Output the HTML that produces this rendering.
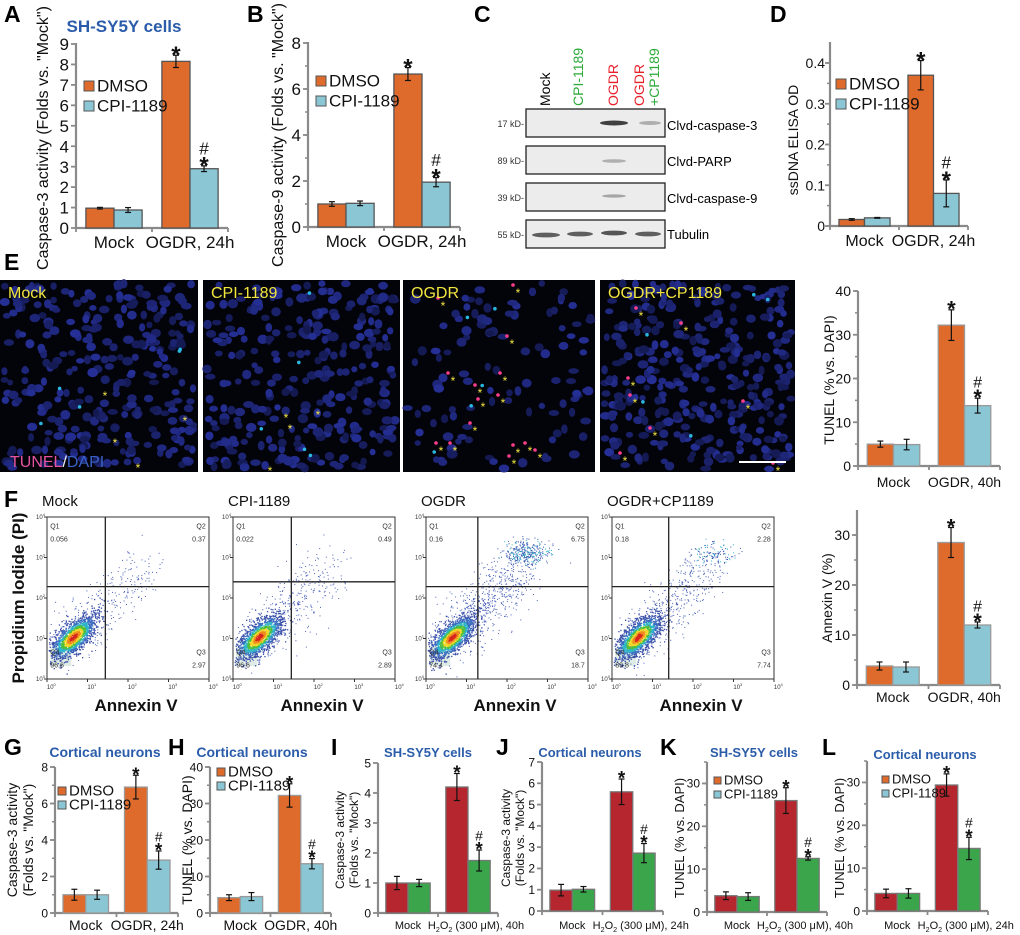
<!DOCTYPE html>
<html><head><meta charset="utf-8">
<style>
html,body{margin:0;padding:0;background:#fff;}
svg{display:block;font-family:"Liberation Sans",Arial,sans-serif;}
</style></head>
<body>
<svg id="fig" width="1020" height="935" viewBox="0 0 1020 935" xmlns="http://www.w3.org/2000/svg">
<g font-weight="bold" font-size="23" fill="#000">
<text x="4" y="22">A</text><text x="247" y="22">B</text><text x="474" y="22">C</text><text x="770" y="22">D</text>
<text x="4" y="270">E</text><text x="4" y="507">F</text>
<text x="4" y="755">G</text><text x="168" y="755">H</text><text x="331" y="755">I</text><text x="496" y="755">J</text><text x="660" y="755">K</text><text x="822" y="755">L</text>
</g>
<g>
<g font-size="14">
<text transform="translate(550,106) rotate(-90)" fill="#000">Mock</text>
<text transform="translate(583,106) rotate(-90)" fill="#2daa3a">CPI-1189</text>
<text transform="translate(618,106) rotate(-90)" fill="#e8202a">OGDR</text>
<text transform="translate(644,106) rotate(-90)" fill="#e8202a">OGDR</text>
<text transform="translate(659,106) rotate(-90)" fill="#2daa3a">+CP1189</text>
</g>
<g font-size="9" fill="#333" text-anchor="end">
<text x="524" y="127">17 kD-</text><text x="524" y="164">89 kD-</text><text x="524" y="201">39 kD-</text><text x="524" y="238">55 kD-</text>
</g>
<g fill="#ececec" stroke="#222" stroke-width="1.3">
<rect x="526" y="109" width="139" height="28"/><rect x="526" y="146" width="139" height="28"/><rect x="526" y="183" width="139" height="28"/><rect x="526" y="220" width="139" height="28"/>
</g>
<g fill="#222">
<ellipse cx="614" cy="123" rx="14" ry="2.5" opacity="0.85"/>
<ellipse cx="650" cy="123" rx="11" ry="2" opacity="0.3"/>
<ellipse cx="614" cy="161" rx="12" ry="1.8" opacity="0.3"/>
<ellipse cx="614" cy="196" rx="12" ry="1.6" opacity="0.35"/>
<ellipse cx="546" cy="235" rx="14" ry="2.4" opacity="0.7"/>
<ellipse cx="580" cy="234" rx="13" ry="2.4" opacity="0.7"/>
<ellipse cx="614" cy="233" rx="13" ry="2.4" opacity="0.75"/>
<ellipse cx="648" cy="234" rx="13" ry="2.4" opacity="0.7"/>
</g>
<g font-size="13" fill="#000">
<text x="667" y="130">Clvd-caspase-3</text><text x="667" y="166">Clvd-PARP</text><text x="667" y="203">Clvd-caspase-9</text><text x="667" y="239">Tubulin</text>
</g>
</g>
<g id="micro"></g>
<g id="flow"></g>
<g id="charts"></g>
</svg>
<script>
// ---------- DATA ----------
const catsOGDR24 = ['Mock', 'OGDR, 24h'];
const catsOGDR40 = ['Mock', 'OGDR, 40h'];
const catsH40 = ['Mock', 'H2O2 (300 μM), 40h'];
const catsH24 = ['Mock', 'H2O2 (300 μM), 24h'];
const seriesNames = ['DMSO', 'CPI-1189'];

const aDmso = [0.97, 8.15]; const aDmsoErr = [0.04, 0.3];
const aCpi = [0.88, 2.9];  const aCpiErr = [0.12, 0.14];
const aTicks = [0,1,2,3,4,5,6,7,8,9];
const bDmso = [1.0, 6.65]; const bDmsoErr = [0.1, 0.28];
const bCpi = [1.03, 1.95]; const bCpiErr = [0.1, 0.2];
const bTicks = [0,2,4,6,8];
const dDmso = [0.016, 0.37]; const dDmsoErr = [0.002, 0.036];
const dCpi = [0.02, 0.08];  const dCpiErr = [0.001, 0.033];
const dTicks = [0,0.1,0.2,0.3,0.4];
const eDmso = [5.0, 32.2]; const eDmsoErr = [0.7, 3.5];
const eCpi = [4.9, 13.8];  const eCpiErr = [1.2, 1.7];
const eTicks = [0,10,20,30,40];
const fDmso = [3.8, 28.5]; const fDmsoErr = [0.8, 3.0];
const fCpi = [3.6, 12.0];  const fCpiErr = [1.0, 0.6];
const fTicks = [0,10,20,30];
const gDmso = [1.0, 6.9]; const gDmsoErr = [0.3, 0.65];
const gCpi = [1.0, 2.9];  const gCpiErr = [0.25, 0.5];
const gTicks = [0,2,4,6,8];
const hDmso = [4.2, 32.2]; const hDmsoErr = [0.8, 3.2];
const hCpi = [4.5, 13.5];  const hCpiErr = [1.1, 1.4];
const hTicks = [0,10,20,30,40];
const iDmso = [1.0, 4.2]; const iDmsoErr = [0.22, 0.45];
const iCpi = [1.0, 1.75]; const iCpiErr = [0.12, 0.35];
const iTicks = [0,1,2,3,4,5];
const jDmso = [0.98, 5.6]; const jDmsoErr = [0.27, 0.6];
const jCpi = [1.02, 2.72]; const jCpiErr = [0.13, 0.45];
const jTicks = [0,1,2,3,4,5,6,7];
const kDmso = [3.8, 26.0]; const kDmsoErr = [0.9, 3.0];
const kCpi = [3.6, 12.5];  const kCpiErr = [0.9, 0.4];
const kTicks = [0,10,20,30];
const lDmso = [4.1, 29.4]; const lDmsoErr = [1.0, 2.6];
const lCpi = [4.1, 14.6];  const lCpiErr = [1.1, 2.6];
const lTicks = [0,10,20,30];
const sigMarks = ['', '', '*', '#*'];

// ---------- HELPERS ----------
const NS = 'http://www.w3.org/2000/svg';
function mk(tag, attrs, parent) {
  const e = document.createElementNS(NS, tag);
  for (const k in attrs) e.setAttribute(k, attrs[k]);
  parent.appendChild(e);
  return e;
}
function fmt(v){ return (Math.round(v*100)/100).toString(); }

function barChart(cfg, cats, dm, dmE, cp, cpE, ticks) {
  const root = document.getElementById('charts');
  const g = mk('g', {}, root);
  
  
  const y = v => cfg.y0 - v / cfg.vmax * (cfg.y0 - cfg.ytop);
  const band = (cfg.x1 - cfg.x0) / cats.length;
  const bw = band * 0.37;
  const ax = cfg.axColor || '#8a8a8a';
  const yl = mk('line', {x1: cfg.x0, y1: cfg.y0 + 1, x2: cfg.x0, y2: cfg.axTop, stroke: ax, 'stroke-width': 2.2}, g);
  
  
  const xl = mk('line', {x1: cfg.x0 - 1, y1: cfg.y0, x2: cfg.x1, y2: cfg.y0, stroke: ax, 'stroke-width': 2.2}, g);
  
  
  for (let i = 0; i <= cats.length; i++) {
    mk('line', {x1: cfg.x0 + band * i, y1: cfg.y0, x2: cfg.x0 + band * i, y2: cfg.y0 + 4, stroke: ax, 'stroke-width': 1.8}, g);
  }
  if (cfg.minor) {
    for (let v = 0; v <= cfg.vmax + 1e-9; v += cfg.minor) {
      mk('line', {x1: cfg.x0 - 3, y1: y(v), x2: cfg.x0, y2: y(v), stroke: ax, 'stroke-width': 1.5}, g);
    }
  }
  const tgap = cfg.tgap || 7;
  ticks.forEach(t => {
    mk('line', {x1: cfg.x0 - 5, y1: y(t), x2: cfg.x0, y2: y(t), stroke: ax, 'stroke-width': 1.8}, g);
    const tl = mk('text', {x: cfg.x0 - tgap, y: y(t) + cfg.fs * 0.36, 'font-size': cfg.fs, 'text-anchor': 'end', fill: '#111'}, g);
    tl.textContent = fmt(t);
    
    
  });
  cfg.ytitle.forEach((line, k) => {
    const tx = cfg.ytx + k * cfg.yfs * 1.15;
    const tt = mk('text', {transform: `translate(${tx},${cfg.yty}) rotate(-90)`, 'font-size': cfg.yfs, 'text-anchor': 'middle', fill: '#111'}, g);
    tt.textContent = line;
    
    
  });
  if (cfg.title) {
    const ti = mk('text', {x: cfg.titleX, y: cfg.titleY, 'font-size': cfg.titleFs, 'font-weight': 'bold', 'text-anchor': 'middle', fill: '#2a5caa'}, g);
    ti.textContent = cfg.title;
    
    
  }
  const series = [[dm, dmE, cfg.c1], [cp, cpE, cfg.c2]];
  let m = 0;
  cats.forEach((c, i) => {
    const cx = cfg.x0 + band * (i + 0.5);
    series.forEach((s, j) => {
      const v = s[0][i], e = s[1][i];
      const bx = cx - bw + j * bw;
      const r = mk('rect', {x: bx, y: y(v), width: bw, height: cfg.y0 - y(v), fill: s[2], stroke: cfg.barStroke, 'stroke-width': 1.3}, g);
      
      
      const mx = bx + bw / 2;
      const eg = mk('g', {stroke: '#111', 'stroke-width': 1.2}, g);
      
      
      mk('line', {x1: mx, y1: y(v - e), x2: mx, y2: y(v + e)}, eg);
      mk('line', {x1: mx - 3, y1: y(v - e), x2: mx + 3, y2: y(v - e)}, eg);
      mk('line', {x1: mx - 3, y1: y(v + e), x2: mx + 3, y2: y(v + e)}, eg);
      const mark = sigMarks[m++];
      if (mark) {
        const top = y(v + e) - 3;
        const st = mk('text', {x: mx, y: top + cfg.sfs * 0.45, 'font-size': cfg.sfs, 'font-weight': 'bold', 'text-anchor': 'middle', fill: '#111'}, g);
        st.textContent = '*';
        
        
        if (mark === '#*') {
          const hs = mk('text', {x: mx, y: top - cfg.sfs * 0.35, 'font-size': cfg.sfs * 0.72, 'text-anchor': 'middle', fill: '#111'}, g);
          hs.textContent = '#';
          
          
        }
      }
    });
    const cl = mk('text', {x: cx + (cfg.catDx ? cfg.catDx[i] : 0), y: cfg.catY, 'font-size': cfg.cfs, 'text-anchor': 'middle', fill: '#111'}, g);
    
    
    if (c.startsWith('H2O2')) {
      const parts = ['H', '2', 'O', '2', c.slice(4)];
      parts.forEach((p, k) => {
        const ts = mk('tspan', (k === 1 || k === 3) ? {'font-size': cfg.cfs * 0.65, dy: 3} : {dy: (k === 2 || k === 4) ? -3 : 0}, cl);
        ts.textContent = p;
      });
    } else cl.textContent = c;
  });
  if (cfg.leg) {
    seriesNames.forEach((n, j) => {
      const lg = mk('g', {}, g);
      
      
      const ly = cfg.leg[1] + j * cfg.legDy;
      mk('rect', {x: cfg.leg[0], y: ly - cfg.lsz + 1, width: cfg.lsz, height: cfg.lsz, fill: j === 0 ? cfg.lc1 : cfg.lc2, stroke: '#555', 'stroke-width': 1}, lg);
      const lt = mk('text', {x: cfg.leg[0] + cfg.lsz + 3, y: ly + 1.5, 'font-size': cfg.lfs, fill: '#111'}, lg);
      lt.textContent = n;
    });
  }
}

const OR = '#de6a2c', CY = '#8ac6d3', RD = '#b6262e', GR = '#3aa54a';
const base = {c1: OR, c2: CY, lc1: OR, lc2: CY, barStroke: '#555'};

barChart(Object.assign({}, base, {name:'chart-a-caspase3', x0:76, x1:228, y0:228, ytop:44, axTop:43, vmax:9, fs:17, ytitle:['Caspase-3 activity (Folds vs. "Mock")'], ytx:48, yty:138, yfs:16, title:'SH-SY5Y cells', titleX:124, titleY:32, titleFs:17, catY:248, cfs:17, sfs:24, leg:[84,90], legDy:20, lsz:10, lfs:17}), catsOGDR24, aDmso, aDmsoErr, aCpi, aCpiErr, aTicks);
barChart(Object.assign({}, base, {name:'chart-b-caspase9', x0:308, x1:460, y0:227, ytop:43, axTop:42, vmax:8, minor:1, fs:17, ytitle:['Caspase-9 activity (Folds vs. "Mock")'], ytx:283, yty:135, yfs:16, catY:247, cfs:17, sfs:24, leg:[316,85], legDy:20, lsz:10, lfs:17}), catsOGDR24, bDmso, bDmsoErr, bCpi, bCpiErr, bTicks);
barChart(Object.assign({}, base, {name:'chart-d-ssdna', x0:830, x1:968, y0:226, ytop:63, axTop:42, vmax:0.4, minor:0.05, fs:14, tgap:5, ytitle:['ssDNA ELISA OD'], ytx:798, yty:140, yfs:14, catY:246, cfs:16, sfs:24, leg:[836,88], legDy:20, lsz:10, lfs:17}), catsOGDR24, dDmso, dDmsoErr, dCpi, dCpiErr, dTicks);
barChart(Object.assign({}, base, {name:'chart-e-tunel', barStroke:'#999', x0:858, x1:1000, y0:466, ytop:291, axTop:291, vmax:40, minor:5, fs:14, ytitle:['TUNEL (% vs. DAPI)'], ytx:834, yty:380, yfs:14, catY:487, cfs:14, sfs:22}), catsOGDR40, eDmso, eDmsoErr, eCpi, eCpiErr, eTicks);
barChart(Object.assign({}, base, {name:'chart-f-annexin', barStroke:'#999', x0:857, x1:1000, y0:685, ytop:535, axTop:510, vmax:30, minor:5, fs:14, ytitle:['Annexin V (%)'], ytx:832, yty:598, yfs:14, catY:702, cfs:14, sfs:22}), catsOGDR40, fDmso, fDmsoErr, fCpi, fCpiErr, fTicks);
barChart(Object.assign({}, base, {name:'chart-g-caspase3-neurons', barStroke:'#999', x0:55, x1:178, y0:913, ytop:767, axTop:767, vmax:8, minor:1, fs:12, ytitle:['Caspase-3 activity','(Folds vs. "Mock")'], ytx:17, yty:840, yfs:14, title:'Cortical neurons', titleX:105, titleY:757, titleFs:14, catY:930, cfs:14, sfs:19, leg:[58,794], legDy:14, lsz:8, lfs:15}), catsOGDR24, gDmso, gDmsoErr, gCpi, gCpiErr, gTicks);
barChart(Object.assign({}, base, {name:'chart-h-tunel-neurons', barStroke:'#999', x0:210, x1:331, y0:913, ytop:767, axTop:767, vmax:40, minor:5, fs:12, ytitle:['TUNEL (% vs. DAPI)'], ytx:192, yty:840, yfs:14, title:'Cortical neurons', titleX:252, titleY:757, titleFs:14, catY:930, cfs:14, sfs:19, leg:[217,775], legDy:14, lsz:8, lfs:15}), catsOGDR40, hDmso, hDmsoErr, hCpi, hCpiErr, hTicks);
const hbase = {c1: RD, c2: GR, lc1: OR, lc2: CY, barStroke: '#777'};
barChart(Object.assign({}, hbase, {name:'chart-i-caspase3-h2o2', x0:378, x1:498, y0:913, ytop:763, axTop:763, vmax:5, fs:12, ytitle:['Caspase-3 activity','(Folds vs. "Mock")'], ytx:344, yty:840, yfs:12, title:'SH-SY5Y cells', titleX:428, titleY:757, titleFs:13, catY:929, cfs:11, sfs:19, catDx:[0,8]}), catsH40, iDmso, iDmsoErr, iCpi, iCpiErr, iTicks);
barChart(Object.assign({}, hbase, {name:'chart-j-caspase3-h2o2-neurons', x0:542, x1:663, y0:911, ytop:762, axTop:762, vmax:7, fs:12, ytitle:['Caspase-3 activity','(Folds vs. "Mock")'], ytx:510, yty:838, yfs:12, title:'Cortical neurons', titleX:590, titleY:757, titleFs:13, catY:929, cfs:11, sfs:19, catDx:[0,8]}), catsH24, jDmso, jDmsoErr, jCpi, jCpiErr, jTicks);
barChart(Object.assign({}, hbase, {name:'chart-k-tunel-h2o2', x0:707, x1:827, y0:912, ytop:762, axTop:762, vmax:35, minor:5, fs:12, ytitle:['TUNEL (% vs. DAPI)'], ytx:684, yty:838, yfs:13, title:'SH-SY5Y cells', titleX:754, titleY:757, titleFs:13, catY:929, cfs:11, sfs:19, catDx:[0,8], leg:[714,783], legDy:14, lsz:7, lfs:13}), catsH40, kDmso, kDmsoErr, kCpi, kCpiErr, kTicks);
barChart(Object.assign({}, hbase, {name:'chart-l-tunel-h2o2-neurons', x0:867, x1:988, y0:911, ytop:761, axTop:761, vmax:35, minor:5, fs:12, ytitle:['TUNEL (% vs. DAPI)'], ytx:844, yty:838, yfs:13, title:'Cortical neurons', titleX:925, titleY:759, titleFs:13, catY:929, cfs:11, sfs:19, catDx:[0,8], leg:[882,782], legDy:14, lsz:7, lfs:13}), catsH24, lDmso, lDmsoErr, lCpi, lCpiErr, lTicks);

// ---------- MICROGRAPHS (image texture) ----------
let seed = 12345;
function rnd(){ seed = (seed * 1103515245 + 12345) % 2147483648; return seed / 2147483648; }
function gauss(){ let u = rnd() || 1e-6, v = rnd(); return Math.sqrt(-2*Math.log(u))*Math.cos(2*Math.PI*v); }
(function(){
  const root = document.getElementById('micro');
  const panels = [
    {x:0, w:198, n:300, lab:'Mock', stars:[[105,395],[185,420],[115,442],[138,467]]},
    {x:203, w:197, n:290, lab:'CPI-1189', stars:[[318,414],[286,417],[290,428],[270,470]]},
    {x:403, w:192, n:110, lab:'OGDR', stars:[[518,292],[443,305],[512,343],[453,380],[505,380],[480,392],[503,402],[483,406],[475,430],[441,450],[455,450],[518,452],[530,450],[540,457],[514,463]]},
    {x:600, w:195, n:330, lab:'OGDR+CP1189', stars:[[641,315],[686,330],[633,385],[635,402],[748,408],[655,435],[625,460],[778,470]]}
  ];
  let s = '';
  panels.forEach(p => {
    s += `<rect x="${p.x}" y="280" width="${p.w}" height="192" fill="#03030a"/>`;
    for (let i = 0; i < p.n; i++) {
      const cx = p.x + 4 + rnd()*(p.w-8), cy = 283 + rnd()*186;
      const b = 80 + Math.floor(rnd()*70);
      const r = Math.floor(b*0.25), gg = Math.floor(b*0.32);
      s += `<ellipse cx="${cx.toFixed(1)}" cy="${cy.toFixed(1)}" rx="${(3+rnd()*2.5).toFixed(1)}" ry="${(2.8+rnd()*2).toFixed(1)}" fill="rgb(${r},${gg},${b})"/>`;
    }
    for (let i = 0; i < 5; i++) {
      s += `<circle cx="${(p.x+10+rnd()*(p.w-20)).toFixed(1)}" cy="${(290+rnd()*175).toFixed(1)}" r="1.8" fill="#2ab8e0"/>`;
    }
    p.stars.forEach((st, k) => {
      if (p.lab === 'OGDR' || p.lab === 'OGDR+CP1189') s += `<circle cx="${st[0]-5}" cy="${st[1]-7}" r="1.8" fill="#ff3e8e"/>`;
      s += `<text x="${st[0]}" y="${st[1]+5}" font-size="12" fill="#f2e640" text-anchor="middle">*</text>`;
    });
    s += `<text x="${p.x+8}" y="298" font-size="16" fill="#f2e640">${p.lab}</text>`;
  });
  s += '<line x1="739" y1="462" x2="786" y2="462" stroke="#fff" stroke-width="2"/>';
  s += '<text x="10" y="467" font-size="16"><tspan fill="#e5559f">TUNEL</tspan><tspan fill="#f0f0f0">/</tspan><tspan fill="#3a63c8">DAPI</tspan></text>';
  root.innerHTML = s;
})();

// ---------- FLOW CYTOMETRY (image texture) ----------
(function(){
  const root = document.getElementById('flow');
  const plots = [
    {x:47, title:'Mock', q:['0.056','0.37','96.6','2.97'], vx:0.36, hy:0.43, tail:350, q2:0},
    {x:233, title:'CPI-1189', q:['0.022','0.49','96.6','2.89'], vx:0.36, hy:0.40, tail:380, q2:0},
    {x:426, title:'OGDR', q:['0.16','6.75','74.4','18.7'], vx:0.32, hy:0.43, tail:700, q2:320},
    {x:612, title:'OGDR+CP1189', q:['0.18','2.28','89.8','7.74'], vx:0.35, hy:0.43, tail:500, q2:120}
  ];
  const top = 517, W = 162, H = 162;
  const pal = ['#d7261e','#f08a1c','#f2d72a','#4fbf3a','#2fb5c8','#3a6cc0','#3a4fa8'];
  let s = '';
  plots.forEach(p => {
    const X = f => p.x + f*W, Y = f => top + f*H;
    s += `<text x="${p.x-5}" y="506" font-size="15" fill="#111">${p.title}</text>`;
    s += `<rect x="${p.x}" y="${top}" width="${W}" height="${H}" fill="#fff" stroke="#333" stroke-width="1"/>`;
    s += `<rect x="${X(0.02)}" y="${Y(0.8)}" width="${W*0.13}" height="${H*0.12}" fill="#dfece6"/>`;
    for (let i = 0; i < p.tail; i++) {
      const t = rnd();
      const fx = 0.1 + t*0.5 + gauss()*0.08, fy = 0.8 - t*0.5 + gauss()*0.08;
      if (fx<0.01||fx>0.99||fy<0.01||fy>0.99) continue;
      s += `<rect x="${X(fx).toFixed(1)}" y="${Y(fy).toFixed(1)}" width="1" height="1" fill="#4a62b8"/>`;
    }
    for (let i = 0; i < p.q2; i++) {
      const fx = 0.62 + gauss()*0.07, fy = 0.22 + gauss()*0.04;
      s += `<rect x="${X(fx).toFixed(1)}" y="${Y(fy).toFixed(1)}" width="1" height="1" fill="${rnd()<0.3?'#2fb5c8':'#3a55b0'}"/>`;
    }
    for (let i = 0; i < 1500; i++) {
      const t = gauss(), u = gauss();
      const fx = 0.16 + t*0.065 + u*0.025, fy = 0.74 - t*0.06 + u*0.03;
      const d = Math.sqrt(t*t+u*u);
      const c = d<0.35?0:d<0.6?1:d<0.85?2:d<1.1?3:d<1.4?4:d<1.8?5:6;
      if (fx<0.01||fy>0.99) continue;
      s += `<rect x="${X(fx).toFixed(1)}" y="${Y(fy).toFixed(1)}" width="1.3" height="1.3" fill="${pal[c]}"/>`;
    }
    s += `<line x1="${X(p.vx)}" y1="${top}" x2="${X(p.vx)}" y2="${top+H}" stroke="#222" stroke-width="1.3"/>`;
    s += `<line x1="${p.x}" y1="${Y(p.hy)}" x2="${p.x+W}" y2="${Y(p.hy)}" stroke="#222" stroke-width="1.3"/>`;
    s += `<g font-size="7" fill="#333"><text x="${X(0.02)}" y="${Y(0.07)}">Q1</text><text x="${X(0.02)}" y="${Y(0.15)}">${p.q[0]}</text>`;
    s += `<text x="${X(0.98)}" y="${Y(0.07)}" text-anchor="end">Q2</text><text x="${X(0.98)}" y="${Y(0.15)}" text-anchor="end">${p.q[1]}</text>`;
    s += `<text x="${X(0.02)}" y="${Y(0.85)}">Q4</text><text x="${X(0.02)}" y="${Y(0.93)}">${p.q[2]}</text>`;
    s += `<text x="${X(0.98)}" y="${Y(0.85)}" text-anchor="end">Q3</text><text x="${X(0.98)}" y="${Y(0.93)}" text-anchor="end">${p.q[3]}</text></g>`;
    s += '<g font-size="6" fill="#333">';
    for (let k = 0; k <= 4; k++) {
      s += `<text x="${p.x-11}" y="${Y(1-k/4)+2}">10<tspan font-size="4" dy="-3">${k}</tspan></text>`;
      s += `<text x="${X(k/4+0.03)-5}" y="${top+H+10}">10<tspan font-size="4" dy="-3">${k}</tspan></text>`;
      s += `<line x1="${p.x-3}" y1="${Y(1-k/4)}" x2="${p.x}" y2="${Y(1-k/4)}" stroke="#333"/>`;
      s += `<line x1="${X(k/4)}" y1="${top+H}" x2="${X(k/4)}" y2="${top+H+3}" stroke="#333"/>`;
    }
    s += '</g>';
    s += `<text x="${p.x+W/2+8}" y="711" font-size="17" font-weight="bold" text-anchor="middle" fill="#111">Annexin V</text>`;
  });
  s += '<text transform="translate(24,598) rotate(-90)" font-size="17" font-weight="bold" text-anchor="middle" fill="#111">Propidium Iodide (PI)</text>';
  root.innerHTML = s;
})();
</script>
</body></html>
